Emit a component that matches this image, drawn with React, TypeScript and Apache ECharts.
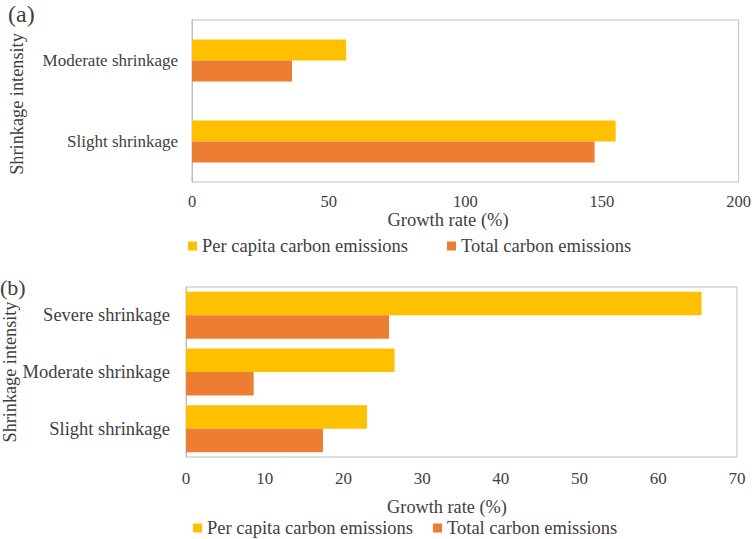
import React, { useEffect, useRef } from "react";
import * as echarts from "echarts";

const categoriesA = ["Moderate shrinkage", "Slight shrinkage"];
const perCapitaA = [56.4, 155.0];
const totalA = [36.6, 147.3];

const categoriesB = ["Severe shrinkage", "Moderate shrinkage", "Slight shrinkage"];
const perCapitaB = [65.5, 26.5, 23.0];
const totalB = [25.8, 8.6, 17.4];

const ticksA = { min: 0, max: 200, interval: 50 };
const ticksB = { min: 0, max: 70, interval: 10 };

const seriesNames = ["Per capita carbon emissions", "Total carbon emissions"];

const YELLOW = "#FFC000";
const ORANGE = "#ED7D31";
const TEXT = "#404040";
const FONT = "Liberation Serif, Times New Roman, serif";

function txt(text: string, x: number, y: number, size: number, align: string, rotation = 0) {
  return {
    type: "text",
    x,
    y,
    rotation,
    style: {
      text,
      fill: TEXT,
      fontSize: size,
      fontFamily: FONT,
      textAlign: align,
      textVerticalAlign: "middle",
      align,
      verticalAlign: "middle",
    },
  };
}

function legendItem(name: string, left: number, top: number, size: number, gap: number) {
  return {
    data: [{ name, icon: "rect" }],
    left,
    top,
    padding: 0,
    itemWidth: 9,
    itemHeight: 9,
    itemTextGap: gap,
    selectedMode: false,
    textStyle: { color: TEXT, fontFamily: FONT, fontSize: size, lineHeight: 20 },
  };
}

export default function App() {
  const ref = useRef<HTMLDivElement>(null);
  useEffect(() => {
    document.body.style.margin = "0";
    const chart = echarts.init(ref.current!, undefined, { renderer: "svg" });
    const option: any = {
      animation: false,
      backgroundColor: "#ffffff",
      textStyle: { fontFamily: FONT, color: TEXT },
      grid: [
        { left: 192, top: 20, width: 550, height: 162, show: true, borderColor: "#BFBFBF", borderWidth: 1, backgroundColor: "transparent" },
        { left: 186, top: 287, width: 551, height: 170, show: true, borderColor: "#BFBFBF", borderWidth: 1, backgroundColor: "transparent" },
      ],
      xAxis: [
        {
          gridIndex: 0,
          type: "value",
          min: ticksA.min,
          max: ticksA.max,
          interval: ticksA.interval,
          axisLine: { show: false },
          axisTick: { show: false },
          splitLine: { show: false },
          axisLabel: { color: TEXT, fontFamily: FONT, fontSize: 16.5, margin: 11 },
        },
        {
          gridIndex: 1,
          type: "value",
          min: ticksB.min,
          max: ticksB.max,
          interval: ticksB.interval,
          axisLine: { show: false },
          axisTick: { show: false },
          splitLine: { show: false },
          axisLabel: { color: TEXT, fontFamily: FONT, fontSize: 17, margin: 13 },
        },
      ],
      yAxis: [
        {
          gridIndex: 0,
          type: "category",
          inverse: true,
          data: categoriesA,
          axisLine: { show: true, lineStyle: { color: "#BFBFBF" } },
          axisTick: { show: false },
          axisLabel: { color: TEXT, fontFamily: FONT, fontSize: 17, margin: 14 },
        },
        {
          gridIndex: 1,
          type: "category",
          inverse: true,
          data: categoriesB,
          axisLine: { show: true, lineStyle: { color: "#BFBFBF" } },
          axisTick: { show: false },
          axisLabel: { color: TEXT, fontFamily: FONT, fontSize: 18.5, margin: 16 },
        },
      ],
      legend: [
        legendItem(seriesNames[0], 188, 236, 18.5, 3),
        legendItem(seriesNames[1], 447, 236, 18.5, 4),
        legendItem(seriesNames[0], 193, 518, 18.5, 3),
        legendItem(seriesNames[1], 433, 518, 18.5, 6),
      ],
      series: [
        {
          type: "bar",
          name: seriesNames[0],
          xAxisIndex: 0,
          yAxisIndex: 0,
          data: perCapitaA,
          itemStyle: { color: YELLOW },
          barCategoryGap: "48%",
          barGap: "0%",
        },
        {
          type: "bar",
          name: seriesNames[1],
          xAxisIndex: 0,
          yAxisIndex: 0,
          data: totalA,
          itemStyle: { color: ORANGE },
          barCategoryGap: "48%",
          barGap: "0%",
        },
        {
          type: "bar",
          name: seriesNames[0],
          xAxisIndex: 1,
          yAxisIndex: 1,
          data: perCapitaB,
          itemStyle: { color: YELLOW },
          barCategoryGap: "17%",
          barGap: "0%",
        },
        {
          type: "bar",
          name: seriesNames[1],
          xAxisIndex: 1,
          yAxisIndex: 1,
          data: totalB,
          itemStyle: { color: ORANGE },
          barCategoryGap: "17%",
          barGap: "0%",
        },
      ],
      graphic: [
        txt("(a)", 8, 14, 24, "left"),
        txt("Growth rate (%)", 448, 220, 18.5, "center"),
        txt("Shrinkage intensity", 17, 104, 18.3, "center", Math.PI / 2),
        txt("(b)", 0, 287, 22, "left"),
        txt("Growth rate (%)", 447, 507, 18.3, "center"),
        txt("Shrinkage intensity", 10, 372, 18.2, "center", Math.PI / 2),
      ],
    };
    chart.setOption(option);
    return () => chart.dispose();
  }, []);
  return (
    <div
      ref={ref}
      style={{ position: "absolute", left: 0, top: 0, width: 754, height: 539 }}
    />
  );
}
